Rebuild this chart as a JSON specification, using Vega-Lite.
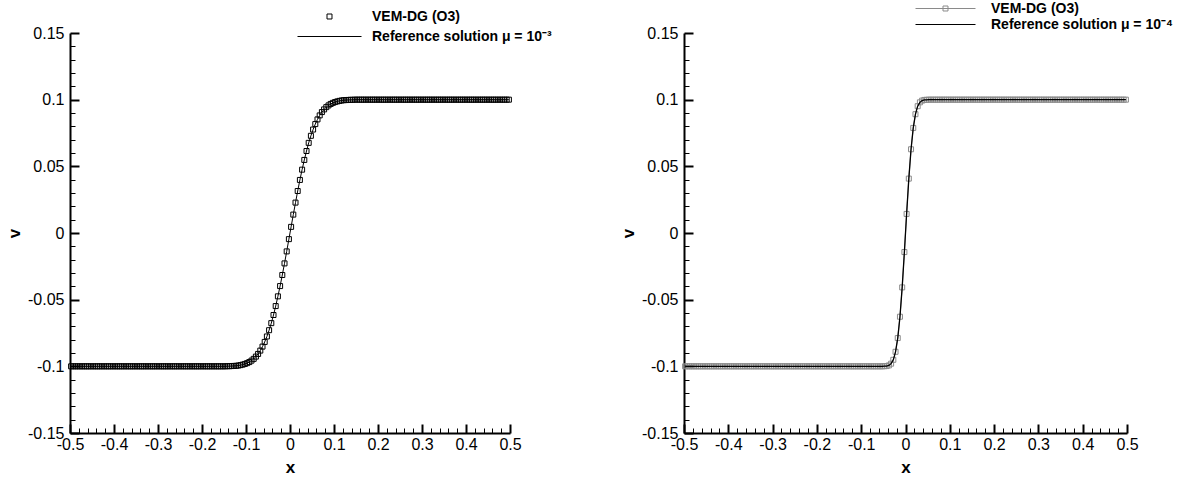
{
"$schema": "https://vega.github.io/schema/vega-lite/v6.json",
"background": "white",
"padding": {"left": 5, "top": 1, "right": 5, "bottom": 0},
"spacing": 174,
"bounds": "flush",
"resolve": {"scale": {"color": "independent"}, "legend": {"color": "independent"}},
"config": {
  "view": {"stroke": null},
  "font": "Liberation Sans",
  "axis": {"grid": false, "domainColor": "black", "domainWidth": 2, "tickColor": "black", "labelColor": "black", "labelFont": "Liberation Sans", "labelFontSize": 16, "titleFont": "Liberation Sans", "titleFontSize": 17, "titleFontWeight": "bold", "titleColor": "black", "labelOverlap": false, "labelFlush": false, "labelBound": false}
},
"datasets": {"d": [
{"x":-0.4975,"a":-0.1,"b":-0.1},{"x":-0.4925,"a":-0.1,"b":-0.1},{"x":-0.4875,"a":-0.1,"b":-0.1},{"x":-0.4825,"a":-0.1,"b":-0.1},{"x":-0.4775,"a":-0.1,"b":-0.1},{"x":-0.4725,"a":-0.1,"b":-0.1},{"x":-0.4675,"a":-0.1,"b":-0.1},{"x":-0.4625,"a":-0.1,"b":-0.1},{"x":-0.4575,"a":-0.1,"b":-0.1},{"x":-0.4525,"a":-0.1,"b":-0.1},
{"x":-0.4475,"a":-0.1,"b":-0.1},{"x":-0.4425,"a":-0.1,"b":-0.1},{"x":-0.4375,"a":-0.1,"b":-0.1},{"x":-0.4325,"a":-0.1,"b":-0.1},{"x":-0.4275,"a":-0.1,"b":-0.1},{"x":-0.4225,"a":-0.1,"b":-0.1},{"x":-0.4175,"a":-0.1,"b":-0.1},{"x":-0.4125,"a":-0.1,"b":-0.1},{"x":-0.4075,"a":-0.1,"b":-0.1},{"x":-0.4025,"a":-0.1,"b":-0.1},
{"x":-0.3975,"a":-0.1,"b":-0.1},{"x":-0.3925,"a":-0.1,"b":-0.1},{"x":-0.3875,"a":-0.1,"b":-0.1},{"x":-0.3825,"a":-0.1,"b":-0.1},{"x":-0.3775,"a":-0.1,"b":-0.1},{"x":-0.3725,"a":-0.1,"b":-0.1},{"x":-0.3675,"a":-0.1,"b":-0.1},{"x":-0.3625,"a":-0.1,"b":-0.1},{"x":-0.3575,"a":-0.1,"b":-0.1},{"x":-0.3525,"a":-0.1,"b":-0.1},
{"x":-0.3475,"a":-0.1,"b":-0.1},{"x":-0.3425,"a":-0.1,"b":-0.1},{"x":-0.3375,"a":-0.1,"b":-0.1},{"x":-0.3325,"a":-0.1,"b":-0.1},{"x":-0.3275,"a":-0.1,"b":-0.1},{"x":-0.3225,"a":-0.1,"b":-0.1},{"x":-0.3175,"a":-0.1,"b":-0.1},{"x":-0.3125,"a":-0.1,"b":-0.1},{"x":-0.3075,"a":-0.1,"b":-0.1},{"x":-0.3025,"a":-0.1,"b":-0.1},
{"x":-0.2975,"a":-0.1,"b":-0.1},{"x":-0.2925,"a":-0.1,"b":-0.1},{"x":-0.2875,"a":-0.1,"b":-0.1},{"x":-0.2825,"a":-0.1,"b":-0.1},{"x":-0.2775,"a":-0.1,"b":-0.1},{"x":-0.2725,"a":-0.1,"b":-0.1},{"x":-0.2675,"a":-0.1,"b":-0.1},{"x":-0.2625,"a":-0.1,"b":-0.1},{"x":-0.2575,"a":-0.1,"b":-0.1},{"x":-0.2525,"a":-0.1,"b":-0.1},
{"x":-0.2475,"a":-0.1,"b":-0.1},{"x":-0.2425,"a":-0.1,"b":-0.1},{"x":-0.2375,"a":-0.1,"b":-0.1},{"x":-0.2325,"a":-0.1,"b":-0.1},{"x":-0.2275,"a":-0.1,"b":-0.1},{"x":-0.2225,"a":-0.1,"b":-0.1},{"x":-0.2175,"a":-0.1,"b":-0.1},{"x":-0.2125,"a":-0.1,"b":-0.1},{"x":-0.2075,"a":-0.1,"b":-0.1},{"x":-0.2025,"a":-0.1,"b":-0.1},
{"x":-0.1975,"a":-0.1,"b":-0.1},{"x":-0.1925,"a":-0.1,"b":-0.1},{"x":-0.1875,"a":-0.1,"b":-0.1},{"x":-0.1825,"a":-0.1,"b":-0.1},{"x":-0.1775,"a":-0.1,"b":-0.1},{"x":-0.1725,"a":-0.1,"b":-0.1},{"x":-0.1675,"a":-0.1,"b":-0.1},{"x":-0.1625,"a":-0.1,"b":-0.1},{"x":-0.1575,"a":-0.1,"b":-0.1},{"x":-0.1525,"a":-0.1,"b":-0.1},
{"x":-0.1475,"a":-0.1,"b":-0.1},{"x":-0.1425,"a":-0.0999,"b":-0.1},{"x":-0.1375,"a":-0.0999,"b":-0.1},{"x":-0.1325,"a":-0.0998,"b":-0.1},{"x":-0.1275,"a":-0.0997,"b":-0.1},{"x":-0.1225,"a":-0.0996,"b":-0.1},{"x":-0.1175,"a":-0.0994,"b":-0.1},{"x":-0.1125,"a":-0.0991,"b":-0.1},{"x":-0.1075,"a":-0.0987,"b":-0.1},{"x":-0.1025,"a":-0.0982,"b":-0.1},
{"x":-0.0975,"a":-0.0976,"b":-0.1},{"x":-0.0925,"a":-0.0968,"b":-0.1},{"x":-0.0875,"a":-0.0957,"b":-0.1},{"x":-0.0825,"a":-0.0944,"b":-0.1},{"x":-0.0775,"a":-0.0927,"b":-0.1},{"x":-0.0725,"a":-0.0907,"b":-0.1},{"x":-0.0675,"a":-0.0882,"b":-0.1},{"x":-0.0625,"a":-0.0852,"b":-0.1},{"x":-0.0575,"a":-0.0817,"b":-0.1},{"x":-0.0525,"a":-0.0776,"b":-0.1},
{"x":-0.0475,"a":-0.0729,"b":-0.0999},{"x":-0.0425,"a":-0.0676,"b":-0.0998},{"x":-0.0375,"a":-0.0615,"b":-0.0993},{"x":-0.0325,"a":-0.0548,"b":-0.098},{"x":-0.0275,"a":-0.0475,"b":-0.0951},{"x":-0.0225,"a":-0.0398,"b":-0.0891},{"x":-0.0175,"a":-0.0315,"b":-0.0788},{"x":-0.0125,"a":-0.0228,"b":-0.0628},{"x":-0.0075,"a":-0.0138,"b":-0.0408},{"x":-0.0025,"a":-0.0046,"b":-0.0143},
{"x":0.0025,"a":0.0046,"b":0.0143},{"x":0.0075,"a":0.0138,"b":0.0408},{"x":0.0125,"a":0.0228,"b":0.0628},{"x":0.0175,"a":0.0315,"b":0.0788},{"x":0.0225,"a":0.0398,"b":0.0891},{"x":0.0275,"a":0.0475,"b":0.0951},{"x":0.0325,"a":0.0548,"b":0.098},{"x":0.0375,"a":0.0615,"b":0.0993},{"x":0.0425,"a":0.0676,"b":0.0998},{"x":0.0475,"a":0.0729,"b":0.0999},
{"x":0.0525,"a":0.0776,"b":0.1},{"x":0.0575,"a":0.0817,"b":0.1},{"x":0.0625,"a":0.0852,"b":0.1},{"x":0.0675,"a":0.0882,"b":0.1},{"x":0.0725,"a":0.0907,"b":0.1},{"x":0.0775,"a":0.0927,"b":0.1},{"x":0.0825,"a":0.0944,"b":0.1},{"x":0.0875,"a":0.0957,"b":0.1},{"x":0.0925,"a":0.0968,"b":0.1},{"x":0.0975,"a":0.0976,"b":0.1},
{"x":0.1025,"a":0.0982,"b":0.1},{"x":0.1075,"a":0.0987,"b":0.1},{"x":0.1125,"a":0.0991,"b":0.1},{"x":0.1175,"a":0.0994,"b":0.1},{"x":0.1225,"a":0.0996,"b":0.1},{"x":0.1275,"a":0.0997,"b":0.1},{"x":0.1325,"a":0.0998,"b":0.1},{"x":0.1375,"a":0.0999,"b":0.1},{"x":0.1425,"a":0.0999,"b":0.1},{"x":0.1475,"a":0.1,"b":0.1},
{"x":0.1525,"a":0.1,"b":0.1},{"x":0.1575,"a":0.1,"b":0.1},{"x":0.1625,"a":0.1,"b":0.1},{"x":0.1675,"a":0.1,"b":0.1},{"x":0.1725,"a":0.1,"b":0.1},{"x":0.1775,"a":0.1,"b":0.1},{"x":0.1825,"a":0.1,"b":0.1},{"x":0.1875,"a":0.1,"b":0.1},{"x":0.1925,"a":0.1,"b":0.1},{"x":0.1975,"a":0.1,"b":0.1},
{"x":0.2025,"a":0.1,"b":0.1},{"x":0.2075,"a":0.1,"b":0.1},{"x":0.2125,"a":0.1,"b":0.1},{"x":0.2175,"a":0.1,"b":0.1},{"x":0.2225,"a":0.1,"b":0.1},{"x":0.2275,"a":0.1,"b":0.1},{"x":0.2325,"a":0.1,"b":0.1},{"x":0.2375,"a":0.1,"b":0.1},{"x":0.2425,"a":0.1,"b":0.1},{"x":0.2475,"a":0.1,"b":0.1},
{"x":0.2525,"a":0.1,"b":0.1},{"x":0.2575,"a":0.1,"b":0.1},{"x":0.2625,"a":0.1,"b":0.1},{"x":0.2675,"a":0.1,"b":0.1},{"x":0.2725,"a":0.1,"b":0.1},{"x":0.2775,"a":0.1,"b":0.1},{"x":0.2825,"a":0.1,"b":0.1},{"x":0.2875,"a":0.1,"b":0.1},{"x":0.2925,"a":0.1,"b":0.1},{"x":0.2975,"a":0.1,"b":0.1},
{"x":0.3025,"a":0.1,"b":0.1},{"x":0.3075,"a":0.1,"b":0.1},{"x":0.3125,"a":0.1,"b":0.1},{"x":0.3175,"a":0.1,"b":0.1},{"x":0.3225,"a":0.1,"b":0.1},{"x":0.3275,"a":0.1,"b":0.1},{"x":0.3325,"a":0.1,"b":0.1},{"x":0.3375,"a":0.1,"b":0.1},{"x":0.3425,"a":0.1,"b":0.1},{"x":0.3475,"a":0.1,"b":0.1},
{"x":0.3525,"a":0.1,"b":0.1},{"x":0.3575,"a":0.1,"b":0.1},{"x":0.3625,"a":0.1,"b":0.1},{"x":0.3675,"a":0.1,"b":0.1},{"x":0.3725,"a":0.1,"b":0.1},{"x":0.3775,"a":0.1,"b":0.1},{"x":0.3825,"a":0.1,"b":0.1},{"x":0.3875,"a":0.1,"b":0.1},{"x":0.3925,"a":0.1,"b":0.1},{"x":0.3975,"a":0.1,"b":0.1},
{"x":0.4025,"a":0.1,"b":0.1},{"x":0.4075,"a":0.1,"b":0.1},{"x":0.4125,"a":0.1,"b":0.1},{"x":0.4175,"a":0.1,"b":0.1},{"x":0.4225,"a":0.1,"b":0.1},{"x":0.4275,"a":0.1,"b":0.1},{"x":0.4325,"a":0.1,"b":0.1},{"x":0.4375,"a":0.1,"b":0.1},{"x":0.4425,"a":0.1,"b":0.1},{"x":0.4475,"a":0.1,"b":0.1},
{"x":0.4525,"a":0.1,"b":0.1},{"x":0.4575,"a":0.1,"b":0.1},{"x":0.4625,"a":0.1,"b":0.1},{"x":0.4675,"a":0.1,"b":0.1},{"x":0.4725,"a":0.1,"b":0.1},{"x":0.4775,"a":0.1,"b":0.1},{"x":0.4825,"a":0.1,"b":0.1},{"x":0.4875,"a":0.1,"b":0.1},{"x":0.4925,"a":0.1,"b":0.1},{"x":0.4975,"a":0.1,"b":0.1}
]},
"hconcat": [
{
  "width": 440, "height": 400,
  "data": {"name": "d"},
  "encoding": {
    "x": {"field": "x", "type": "quantitative", "scale": {"domain": [-0.5, 0.5], "nice": false, "zero": false},
      "axis": {"title": "x", "values": [-0.5,-0.48,-0.46,-0.44,-0.42,-0.4,-0.38,-0.36,-0.34,-0.32,-0.3,-0.28,-0.26,-0.24,-0.22,-0.2,-0.18,-0.16,-0.14,-0.12,-0.1,-0.08,-0.06,-0.04,-0.02,0,0.02,0.04,0.06,0.08,0.1,0.12,0.14,0.16,0.18,0.2,0.22,0.24,0.26,0.28,0.3,0.32,0.34,0.36,0.38,0.4,0.42,0.44,0.46,0.48,0.5],
        "tickSize": {"condition": {"test": "abs(round(datum.value*50)) % 5 == 0", "value": -9}, "value": -5},
        "tickWidth": {"condition": {"test": "abs(round(datum.value*50)) % 5 == 0", "value": 2}, "value": 1},
        "labelExpr": "abs(round(datum.value*50)) % 5 == 0 ? '' + round(datum.value*10)/10 : ''",
        "labelPadding": 12, "titlePadding": 3}},
    "y": {"field": "a", "type": "quantitative", "scale": {"domain": [-0.15, 0.15], "nice": false, "zero": false},
      "axis": {"title": "v", "values": [-0.15,-0.14,-0.13,-0.12,-0.11,-0.1,-0.09,-0.08,-0.07,-0.06,-0.05,-0.04,-0.03,-0.02,-0.01,0,0.01,0.02,0.03,0.04,0.05,0.06,0.07,0.08,0.09,0.1,0.11,0.12,0.13,0.14,0.15],
        "tickSize": {"condition": {"test": "abs(round(datum.value*100)) % 5 == 0", "value": -9}, "value": -5},
        "tickWidth": {"condition": {"test": "abs(round(datum.value*100)) % 5 == 0", "value": 2}, "value": 1},
        "labelExpr": "abs(round(datum.value*100)) % 5 == 0 ? '' + round(datum.value*100)/100 : ''",
        "labelPadding": 15, "titlePadding": 4}}
  },
  "layer": [
    {"mark": {"type": "line", "strokeWidth": 1},
     "encoding": {"color": {"datum": "Reference solution μ = 10⁻³", "scale": {"domain": ["VEM-DG (O3)", "Reference solution μ = 10⁻³"], "range": ["black", "black"]},
       "legend": {"orient": "none", "direction": "vertical", "columns": 1, "legendX": 227, "legendY": -26, "title": null, "padding": 0,
         "symbolSize": 4096, "clipHeight": 19, "rowPadding": 1, "labelOffset": 10, "labelLimit": 400, "labelFont": "Liberation Sans", "labelFontSize": 14, "labelFontWeight": "bold", "labelColor": "black",
         "encode": {"symbols": {"update": {
           "shape": {"signal": "datum.value === 'VEM-DG (O3)' ? 'M-0.078,-0.078H0.078V0.078H-0.078Z' : 'stroke'"},
           "size": {"value": 4096},
           "stroke": {"value": "black"}, "fill": {"value": "transparent"}, "strokeWidth": {"value": 1}, "opacity": {"value": 1}}}}}}}},
    {"mark": {"type": "point", "shape": "square", "size": 25, "filled": false, "strokeWidth": 1, "opacity": 1},
     "encoding": {"color": {"datum": "VEM-DG (O3)"}}}
  ]
},
{
  "width": 443, "height": 400,
  "data": {"name": "d"},
  "encoding": {
    "x": {"field": "x", "type": "quantitative", "scale": {"domain": [-0.5, 0.5], "nice": false, "zero": false},
      "axis": {"title": "x", "values": [-0.5,-0.48,-0.46,-0.44,-0.42,-0.4,-0.38,-0.36,-0.34,-0.32,-0.3,-0.28,-0.26,-0.24,-0.22,-0.2,-0.18,-0.16,-0.14,-0.12,-0.1,-0.08,-0.06,-0.04,-0.02,0,0.02,0.04,0.06,0.08,0.1,0.12,0.14,0.16,0.18,0.2,0.22,0.24,0.26,0.28,0.3,0.32,0.34,0.36,0.38,0.4,0.42,0.44,0.46,0.48,0.5],
        "tickSize": {"condition": {"test": "abs(round(datum.value*50)) % 5 == 0", "value": -9}, "value": -5},
        "tickWidth": {"condition": {"test": "abs(round(datum.value*50)) % 5 == 0", "value": 2}, "value": 1},
        "labelExpr": "abs(round(datum.value*50)) % 5 == 0 ? '' + round(datum.value*10)/10 : ''",
        "labelPadding": 12, "titlePadding": 3}},
    "y": {"field": "b", "type": "quantitative", "scale": {"domain": [-0.15, 0.15], "nice": false, "zero": false},
      "axis": {"title": "v", "values": [-0.15,-0.14,-0.13,-0.12,-0.11,-0.1,-0.09,-0.08,-0.07,-0.06,-0.05,-0.04,-0.03,-0.02,-0.01,0,0.01,0.02,0.03,0.04,0.05,0.06,0.07,0.08,0.09,0.1,0.11,0.12,0.13,0.14,0.15],
        "tickSize": {"condition": {"test": "abs(round(datum.value*100)) % 5 == 0", "value": -9}, "value": -5},
        "tickWidth": {"condition": {"test": "abs(round(datum.value*100)) % 5 == 0", "value": 2}, "value": 1},
        "labelExpr": "abs(round(datum.value*100)) % 5 == 0 ? '' + round(datum.value*100)/100 : ''",
        "labelPadding": 15, "titlePadding": 4}}
  },
  "layer": [
    {"mark": {"type": "line", "strokeWidth": 1},
     "encoding": {"color": {"datum": "VEM-DG (O3)", "scale": {"domain": ["VEM-DG (O3)", "Reference solution μ = 10⁻⁴"], "range": ["#8a8a8a", "black"]},
       "legend": {"orient": "none", "direction": "vertical", "columns": 1, "legendX": 231, "legendY": -32, "title": null, "padding": 0,
         "symbolSize": 3600, "clipHeight": 15, "rowPadding": 1, "labelOffset": 15, "labelLimit": 400, "labelFont": "Liberation Sans", "labelFontSize": 14, "labelFontWeight": "bold", "labelColor": "black",
         "encode": {"symbols": {"update": {
           "shape": {"signal": "datum.value === 'VEM-DG (O3)' ? 'M-1,0H1M-0.083,-0.083H0.083V0.083H-0.083Z' : 'stroke'"},
           "size": {"value": 3600},
           "stroke": {"signal": "datum.value === 'VEM-DG (O3)' ? '#8a8a8a' : 'black'"},
           "fill": {"signal": "datum.value === 'VEM-DG (O3)' ? 'white' : 'transparent'"},
           "strokeWidth": {"value": 1}, "opacity": {"value": 1}}}}}}}},
    {"mark": {"type": "point", "shape": "square", "size": 25, "filled": false, "strokeWidth": 1, "opacity": 1},
     "encoding": {"color": {"datum": "VEM-DG (O3)"}}},
    {"mark": {"type": "line", "strokeWidth": 1.3},
     "encoding": {"color": {"datum": "Reference solution μ = 10⁻⁴"}}}
  ]
}
]
}
